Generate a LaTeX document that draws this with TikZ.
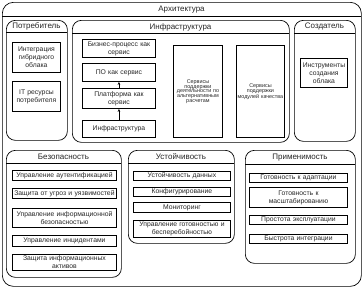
\documentclass[tikz,border=0pt]{standalone}
\usepackage{fontspec}
\setmainfont{Liberation Sans}
\usetikzlibrary{arrows.meta}
\tikzset{
  grp/.style={draw=black, line width=0.7pt, rounded corners=9pt, inner sep=0pt},
  bx/.style={draw=black, line width=0.9pt, inner sep=0pt, align=center, text=black!85,
    font=\fontsize{6.8}{8}\selectfont},
  tall/.style={bx, font=\fontsize{5.4}{4.7}\selectfont},
  ttl/.style={text=black!85, font=\fontsize{8}{9}\selectfont},
  arr/.style={-{Stealth[length=3pt,width=2.6pt]}, line width=0.5pt}
}
\newcommand\grp[8][]{%
  \pgfmathsetmacro\gw{#5-#3}\pgfmathsetmacro\gh{#6-#4}%
  \node[grp, #1, anchor=north west, minimum width=\gw pt, minimum height=\gh pt] (#2) at (#3,#4) {};
  \draw[line width=0.7pt] (#3,#7) -- (#5,#7);
  \node[ttl] (#2t) at ({(#3+#5)/2},{(#4+#7)/2+0.5}) {#8};
}
\newcommand\bx[7][bx]{%
  \pgfmathsetmacro\bw{#5-#3}\pgfmathsetmacro\bh{#6-#4}\pgfmathsetmacro\tw{#5-#3-2}%
  \node[#1, anchor=north west, minimum width=\bw pt, minimum height=\bh pt, text width=\tw pt] (#2) at (#3,#4) {#7};
}
\begin{document}
\begin{tikzpicture}[x=1pt,y=-1pt]
\useasboundingbox (0,0) rectangle (363,289);
% outer
\grp[rounded corners=11pt]{arch}{2}{2}{361}{286}{16}{Архитектура}
% consumer
\grp{cons}{6}{20}{67}{140}{32}{Потребитель}
\bx{integ}{12}{42}{60}{72}{Интеграция\\гибридного\\облака}
\bx{itres}{12}{81}{60}{111}{IT ресурсы\\потребителя}
% infrastructure
\grp{infg}{72}{20}{289}{142}{33}{Инфраструктура}
\bx{bp}{82}{39}{155}{57}{Бизнес-процесс как\\сервис}
\bx{po}{82}{63}{155}{81}{ПО как сервис}
\bx{plat}{82}{88}{155}{108}{Платформа как\\сервис}
\bx{infr}{82}{120}{155}{137}{Инфраструктура}
\bx[tall]{oss}{173}{45}{222}{137}{Сервисы\\поддержки\\деятельности по\\альтернативным\\расчетам}
\bx[tall]{bss}{236}{45}{284}{137}{Сервисы\\поддержки\\\mbox{модулей качества}}
\draw[arr] (infr.north) -- (plat.south);
\draw[arr] (plat.north) -- (po.south);
% creator
\grp{cre}{294}{20}{355}{141}{33}{Создатель}
\bx{tools}{300}{58}{347}{87}{Инструменты\\создания\\облака}
% security
\grp{sec}{6}{150}{121}{277}{163}{Безопасность}
\bx{s1}{12}{170}{116}{180}{Управление аутентификацией}
\bx{s2}{12}{188}{116}{198}{Защита от угроз и уязвимостей}
\bx{s3}{12}{208}{116}{227}{Управление информационной\\безопасностью}
\bx{s4}{12}{235}{116}{246}{Управление инцидентами}
\bx{s5}{12}{254}{116}{270}{Защита информационных\\активов}
% stability
\grp{stab}{128}{150}{234}{243}{163}{Устойчивость}
\bx{r1}{133}{171}{230}{180}{Устойчивость данных}
\bx{r2}{133}{187}{230}{196}{Конфигурирование}
\bx{r3}{133}{202}{230}{212}{Мониторинг}
\bx{r4}{133}{220}{230}{237}{Управление готовностью и\\бесперебойностью}
% applicability
\grp{app}{245}{150}{355}{263}{164}{Применимость}
\bx{a1}{249}{173}{347}{182}{Готовность к адаптации}
\bx{a2}{249}{187}{347}{207}{Готовность к\\масштабированию}
\bx{a3}{249}{215}{347}{224}{Простота эксплуатации}
\bx{a4}{249}{234}{347}{243}{Быстрота интеграции}
\end{tikzpicture}
\end{document}
